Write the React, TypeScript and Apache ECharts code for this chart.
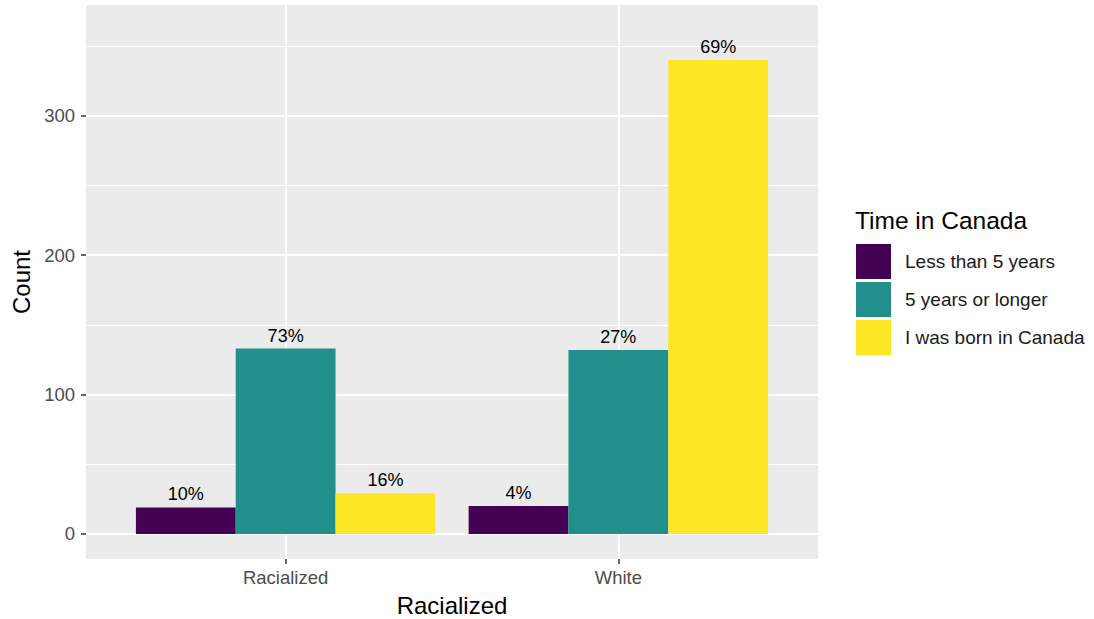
import React, { useEffect, useRef } from "react";
import * as echarts from "echarts";

const categories = ["Racialized", "White"];
const seriesNames = ["Less than 5 years", "5 years or longer", "I was born in Canada"];
const lessThan5 = [19, 20];
const fiveOrLonger = [133, 132];
const bornInCanada = [29, 340];
const colors = ["#440154", "#21908C", "#FDE725"];
const yTicks = [0, 100, 200, 300];
const yMinorTicks = [50, 150, 250, 350];

const FONT = "'Liberation Sans', Arial, sans-serif";

export default function App() {
  const ref = useRef<HTMLDivElement>(null);
  useEffect(() => {
    if (!ref.current) return;
    const chart = echarts.init(ref.current, null, { renderer: "svg" });
    const all = [lessThan5, fiveOrLonger, bornInCanada];
    const totals = categories.map((_, i) => all.reduce((s, arr) => s + arr[i], 0));
    const series = all.map((vals, si) => ({
      name: seriesNames[si],
      type: "bar",
      xAxisIndex: 0,
      yAxisIndex: 0,
      barGap: "0%",
      barCategoryGap: "10%",
      itemStyle: { color: colors[si] },
      label: {
        show: true,
        position: "top",
        distance: 4,
        fontFamily: FONT,
        fontSize: 18,
        color: "#000",
        formatter: (p: any) => Math.round((p.value[1] / totals[p.value[0]]) * 100) + "%",
      },
      data: vals.map((v, i) => [i, v]),
    }));
    chart.setOption({
      animation: false,
      backgroundColor: "#fff",
      grid: {
        left: 86,
        right: 276,
        top: 5,
        bottom: 60,
        containLabel: false,
        outerBoundsMode: "none",
        show: true,
        backgroundColor: "#EBEBEB",
        borderWidth: 0,
      },
      legend: {
        orient: "vertical",
        left: 856,
        top: 244,
        padding: 0,
        itemWidth: 35,
        itemHeight: 35,
        itemGap: 3,
        icon: "rect",
        data: seriesNames,
        textStyle: { fontFamily: FONT, fontSize: 19, color: "#1a1a1a", padding: [0, 0, 0, 9] },
      },
      graphic: [
        {
          type: "text",
          left: 855,
          top: 208,
          style: { text: "Time in Canada", fontFamily: FONT, fontSize: 24.5, fill: "#000" },
        },
      ],
      xAxis: {
        type: "value",
        min: -0.6,
        max: 1.6,
        axisLine: { show: false, onZero: false },
        axisTick: { show: true, length: 5, customValues: [0, 1], lineStyle: { color: "#333", width: 1.5 } },
        axisLabel: {
          customValues: [0, 1],
          margin: 9,
          fontFamily: FONT,
          fontSize: 18.5,
          color: "#4D4D4D",
          formatter: (v: number) => categories[Math.round(v)] ?? "",
        },
        splitLine: { show: true, lineStyle: { color: "#fff", width: 2 } },
        name: "Racialized",
        nameLocation: "middle",
        nameGap: 34,
        nameTextStyle: { fontFamily: FONT, fontSize: 24, color: "#000" },
      },
      yAxis: [
        {
          type: "value",
          min: -18,
          max: 379.5,
          axisLine: { show: false, onZero: false },
          axisTick: { show: true, length: 5, customValues: yTicks, lineStyle: { color: "#333", width: 1.5 } },
          axisLabel: { customValues: yTicks, margin: 11, fontFamily: FONT, fontSize: 18.5, color: "#4D4D4D" },
          splitLine: { show: true, lineStyle: { color: "#fff", width: 2 } },
          name: "Count",
          nameLocation: "middle",
          nameGap: 52,
          nameRotate: 90,
          nameTextStyle: { fontFamily: FONT, fontSize: 24, color: "#000" },
        },
        {
          type: "value",
          position: "left",
          min: -18,
          max: 379.5,
          axisLine: { show: false, onZero: false },
          axisTick: { show: false, customValues: yMinorTicks },
          axisLabel: { show: false, customValues: yMinorTicks },
          splitLine: { show: true, lineStyle: { color: "#fff", width: 1 } },
        },
      ],
      series,
    });
    return () => chart.dispose();
  }, []);
  return <div ref={ref} style={{ width: 1094, height: 619, position: "absolute", left: 0, top: 0 }} />;
}
